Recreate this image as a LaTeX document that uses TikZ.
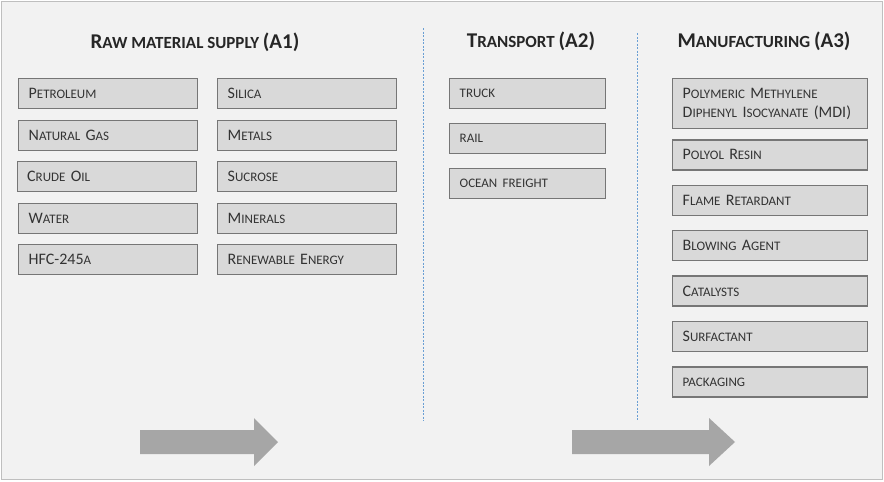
\documentclass[tikz,border=0pt]{standalone}
\usepackage{fontspec}
\setmainfont{Carlito}
\usetikzlibrary{positioning}

\definecolor{panelgray}{HTML}{F2F2F2}
\definecolor{framegray}{HTML}{BFBFBF}
\definecolor{boxfill}{HTML}{D9D9D9}
\definecolor{boxline}{HTML}{767676}
\definecolor{boxtext}{HTML}{333333}
\definecolor{divblue}{HTML}{6A9FD4}
\definecolor{arrowgray}{HTML}{A6A6A6}

% faked small capitals
\newcommand{\hsc}[1]{{\fontsize{17}{24}\selectfont #1}}
\newcommand{\bsc}[1]{{\fontsize{13}{19}\selectfont #1}}

\begin{document}
\begin{tikzpicture}[
		x=1pt, y=-1pt,
		item/.style = {draw=boxline, line width=1.4pt, fill=boxfill, text=boxtext,
			font=\fontsize{16}{19}\selectfont, align=left, inner xsep=10pt,
			inner ysep=0pt, minimum height=30pt, text width=159pt},
		head/.style = {font=\bfseries\fontsize{21}{24}\selectfont, text=black!85, anchor=base},
		divider/.style = {draw=divblue, line width=0.9pt, dash pattern=on 2pt off 1.5pt},
		flow/.style = {fill=arrowgray},
		]
		\useasboundingbox (0,0) rectangle (884,482);
		\fill[white] (0,0) rectangle (884,482);
		\draw[framegray, fill=panelgray] (1.5,1.5) rectangle (882,479.5);

		% headings
		\node[head] (rawhead) at (195,48) {R\hsc{AW MATERIAL SUPPLY }(A1)};
		\node[head] (transhead) at (531,47) {T\hsc{RANSPORT }(A2)};
		\node[head] (manuhead) at (764,47) {M\hsc{ANUFACTURING }(A3)};

		% raw materials, two columns
		\node[item, anchor=north west] (petrol) at (18,78) {P\bsc{ETROLEUM}};
		\node[item, below=10.1pt of petrol] (gas) {N\bsc{ATURAL }G\bsc{AS}};
		\node[item, below=10.1pt of gas, xshift=-1.5pt] (crude) {C\bsc{RUDE }O\bsc{IL}};
		\node[item, below=10.1pt of crude, xshift=1.5pt] (water) {W\bsc{ATER}};
		\node[item, below=10.1pt of water] (hfc) {HFC-245\bsc{A}};

		\node[item, anchor=north west] (silica) at (217,78) {S\bsc{ILICA}};
		\node[item, below=10.1pt of silica] (metals) {M\bsc{ETALS}};
		\node[item, below=10.1pt of metals] (sucrose) {S\bsc{UCROSE}};
		\node[item, below=10.1pt of sucrose] (minerals) {M\bsc{INERALS}};
		\node[item, below=10.1pt of minerals] (energy) {R\bsc{ENEWABLE }E\bsc{NERGY}};

		% transport
		\node[item, text width=136pt, anchor=north west] (truck) at (449,78) {\bsc{TRUCK}};
		\node[item, text width=136pt, below=13.6pt of truck] (rail) {\bsc{RAIL}};
		\node[item, text width=136pt, below=13.6pt of rail] (ocean) {\bsc{OCEAN FREIGHT}};

		% manufacturing inputs
		\node[item, text width=175pt, minimum height=50pt, anchor=north west] (mdi) at (672,78)
			{P\bsc{OLYMERIC }M\bsc{ETHYLENE}\\D\bsc{IPHENYL }I\bsc{SOCYANATE }(MDI)};
		\node[item, text width=175pt, below=9.8pt of mdi] (polyol) {P\bsc{OLYOL }R\bsc{ESIN}};
		\node[item, text width=175pt, below=14pt of polyol] (flame) {F\bsc{LAME }R\bsc{ETARDANT}};
		\node[item, text width=175pt, below=14pt of flame] (blowing) {B\bsc{LOWING }A\bsc{GENT}};
		\node[item, text width=175pt, below=14pt of blowing] (catalyst) {C\bsc{ATALYSTS}};
		\node[item, text width=175pt, below=14pt of catalyst] (surfact) {S\bsc{URFACTANT}};
		\node[item, text width=175pt, below=14pt of surfact] (packing) {\bsc{PACKAGING}};

		% stage dividers
		\coordinate (divAtop) at (423,28);
		\coordinate (divAbot) at (423,421);
		\coordinate (divBtop) at (637,33);
		\coordinate (divBbot) at (637,421);
		\draw[divider] (divAtop) -- (divAbot);
		\draw[divider] (divBtop) -- (divBbot);

		% flow arrows
		\fill[flow] (140,430) -- (254,430) -- (254,418) -- (278,442) -- (254,466)
			-- (254,454) -- (140,454) -- cycle;
		\fill[flow] (572,430) -- (709,430) -- (709,418) -- (735,442) -- (709,466)
			-- (709,454) -- (572,454) -- cycle;
\end{tikzpicture}
\end{document}
